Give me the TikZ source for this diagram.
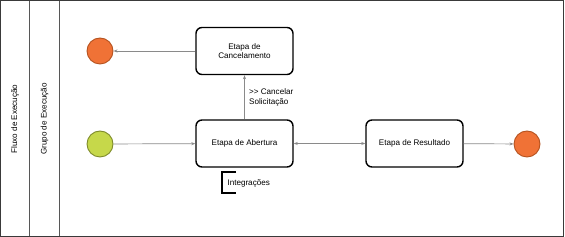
\documentclass[tikz,border=0pt]{standalone}
\usepackage{fontspec}
\setmainfont{Liberation Sans}
\usetikzlibrary{arrows.meta}
\definecolor{endfill}{HTML}{F07236}
\definecolor{enddraw}{HTML}{B5521F}
\definecolor{startfill}{HTML}{C6D84A}
\definecolor{startdraw}{HTML}{7E8B2A}
\definecolor{flowgray}{HTML}{8A8A8A}
\definecolor{lanegray}{HTML}{3A3A3A}
\begin{document}
\begin{tikzpicture}[
  x=1pt, y=-1pt,
  every node/.style={font=\fontsize{8.1}{9.6}\selectfont, align=center},
  stage/.style={draw, rounded corners=6pt, line width=1.4pt, minimum width=97pt, minimum height=47pt},
  startev/.style={circle, draw=startdraw, fill=startfill, line width=0.9pt, minimum size=26pt, inner sep=0pt},
  endev/.style={circle, draw=enddraw, fill=endfill, line width=0.9pt, minimum size=26pt, inner sep=0pt},
  flow/.style={draw=flowgray, line width=0.7pt, -{Stealth[length=4pt,width=3pt]}},
  lanelab/.style={rotate=90}
]
\useasboundingbox (0,0) rectangle (565,237);

% =======================
% Pool and lanes
% =======================
\draw[lanegray, line width=1.4pt] (0.7,0.7) rectangle (563.5,236.3);
\draw[lanegray!85, line width=1.4pt] (29.5,0.7) -- (29.5,236.3);
\draw[lanegray!85, line width=1.4pt] (59.5,0.7) -- (59.5,236.3);

\node[lanelab] (fluxo) at (15,119) {Fluxo de Execução};
\node[lanelab] (grupo) at (44.5,119) {Grupo de Execução};

% =======================
% Events and stages
% =======================
\node[endev] (cancelEnd) at (100,51) {};
\node[startev] (start) at (100,144) {};
\node[endev] (finish) at (527,144) {};

\node[stage] (cancel) at (244.5,51) {Etapa de\\Cancelamento};
\node[stage] (abertura) at (244.5,143.5) {Etapa de Abertura};
\node[stage] (resultado) at (414.5,143.5) {Etapa de Resultado};

% =======================
% Flows
% =======================
\draw[flow] (start) -- (abertura);
\draw[flow] (abertura) -- node[right, align=left, xshift=1pt] (cancelLab) {{>}{>} Cancelar\\Solicitação} (cancel);
\draw[flow] (cancel) -- (cancelEnd);
\draw[flow, {Stealth[length=4pt,width=3pt]}-{Stealth[length=4pt,width=3pt]}] (abertura) -- (resultado);
\draw[flow] (resultado) -- (finish);

% Integrations annotation
\coordinate (brTop) at (236,172);
\coordinate (brBot) at (236,193);
\draw[line width=1.4pt] (brTop) -- (222,172) -- (222,193) -- (brBot);
\node[anchor=west] (integ) at (224,183.5) {Integrações};

\end{tikzpicture}
\end{document}
